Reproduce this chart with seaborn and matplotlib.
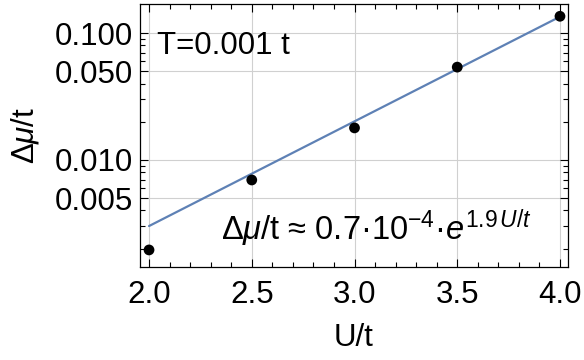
"""Log-scale plot of the chemical potential gap versus U/t with exponential fit."""

import matplotlib.pyplot as plt
import matplotlib.ticker as mticker
import numpy as np
import pandas as pd
import seaborn as sns

# data
u_over_t = [2.0, 2.5, 3.0, 3.5, 4.0]
delta_mu = [0.00195, 0.00695, 0.0179, 0.054, 0.136]

# fit line endpoints (straight on log axis)
fit_u = [2.0, 4.0]
fit_mu = [0.00301, 0.135]

y_ticks = [0.005, 0.010, 0.050, 0.100]
y_tick_labels = ["0.005", "0.010", "0.050", "0.100"]
x_ticks = [2.0, 2.5, 3.0, 3.5, 4.0]

LINE_COLOR = "#5e81b5"
FS = 22.5

sns.set_theme(style="ticks")
plt.rcParams["font.family"] = ["Liberation Sans", "DejaVu Sans"]
plt.rcParams["mathtext.fontset"] = "custom"
plt.rcParams["mathtext.rm"] = "Liberation Sans"
plt.rcParams["mathtext.it"] = "Liberation Sans:italic"
plt.rcParams["mathtext.bf"] = "Liberation Sans:bold"
plt.rcParams["text.color"] = "black"
plt.rcParams["axes.labelcolor"] = "black"

points = pd.DataFrame({"U/t": u_over_t, "dmu": delta_mu})
fit = pd.DataFrame({"U/t": fit_u, "dmu": fit_mu})

fig = plt.figure(figsize=(5.84, 3.6), dpi=100)
ax = fig.add_axes([0.2397, 0.2583, 0.7329, 0.7306])

sns.lineplot(data=fit, x="U/t", y="dmu", color=LINE_COLOR, linewidth=1.6, ax=ax, zorder=2)
sns.scatterplot(data=points, x="U/t", y="dmu", color="black", s=60, edgecolor="none", ax=ax, zorder=3)

ax.set_yscale("log")
ax.set_xlim(1.956, 4.039)
ax.set_ylim(0.00143, 0.170)

ax.set_xticks(x_ticks)
ax.set_xticklabels([f"{v:.1f}" for v in x_ticks])
ax.xaxis.set_minor_locator(mticker.MultipleLocator(0.1))
ax.set_yticks(y_ticks)
ax.set_yticklabels(y_tick_labels)
ax.yaxis.set_minor_locator(mticker.LogLocator(base=10, subs=np.arange(2, 10)))
ax.yaxis.set_minor_formatter(mticker.NullFormatter())

ax.tick_params(which="both", direction="in", top=True, right=True, colors="black",
               labelcolor="black", labelsize=FS, width=0.8)
ax.tick_params(which="major", length=6)
ax.tick_params(which="minor", length=3.5)
ax.tick_params(axis="x", which="major", pad=9)
ax.tick_params(axis="y", which="major", pad=5)

ax.grid(True, which="major", color="#d0d0d0", linewidth=0.8)
for spine in ax.spines.values():
    spine.set_color("black")
    spine.set_linewidth(0.9)

ax.set_xlabel("U/t", fontsize=FS, labelpad=10)
ax.set_ylabel(r"$\Delta\mu$/t", fontsize=FS, labelpad=10)

ax.text(0.04, 0.84, "T=0.001 t", transform=ax.transAxes, fontsize=FS, va="center")
ax.text(0.19, 0.105, r"$\Delta\mu$/t ≈ 0.7·10$^{-4}$·$e^{1.9\,U/t}$",
        transform=ax.transAxes, fontsize=23.5, va="baseline")

fig.savefig("out.png", dpi=100)
plt.close(fig)
